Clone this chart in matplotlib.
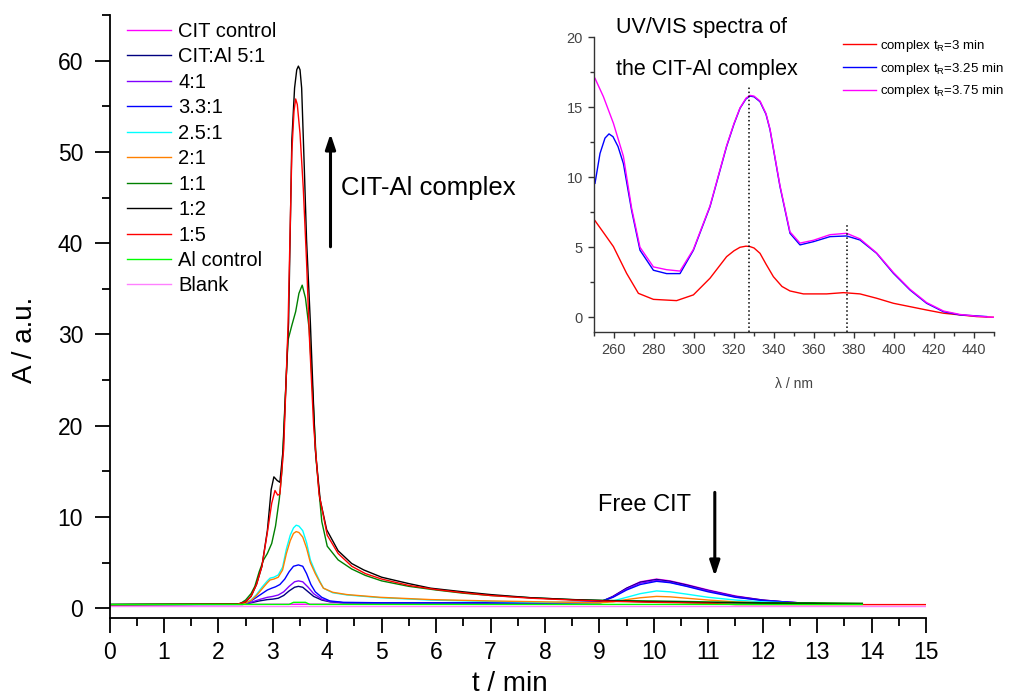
import numpy as np
import matplotlib
matplotlib.use('Agg')
import matplotlib.pyplot as plt
from matplotlib.ticker import MultipleLocator

plt.rcParams['font.family'] = ['Liberation Sans', 'DejaVu Sans']
plt.rcParams['mathtext.fontset'] = 'custom'
plt.rcParams['mathtext.rm'] = 'Liberation Sans'

# ---------------- chromatograms (t / min, A / a.u.) ----------------
labels = ['CIT control', 'CIT:Al 5:1', '4:1', '3.3:1', '2.5:1', '2:1',
          '1:1', '1:2', '1:5', 'Al control', 'Blank']
colors = ['#FF00FF', '#000080', '#8000FF', '#0000FF', '#00FFFF', '#FF8000',
          '#008000', '#000000', '#FF0000', '#00FF00', '#FF80FF']

t_cit = [0, 9.0, 9.25, 9.5, 9.75, 10.05, 10.3, 10.6, 11.0, 11.5, 12.0, 12.5, 13.0, 13.83]
a_cit = [0.4, 0.5, 1.3, 2.2, 2.9, 3.2, 3.0, 2.6, 2.0, 1.35, 0.9, 0.65, 0.5, 0.45]

t_51 = [0, 2.45, 2.6, 2.75, 2.9, 3.0, 3.1, 3.2, 3.3, 3.4, 3.47, 3.55, 3.65, 3.75, 3.9, 4.05, 4.3,
        5, 6, 7, 8, 9, 9.25, 9.5, 9.75, 10.05, 10.3, 10.6, 11.0, 11.5, 12.0, 12.5, 13.0, 13.83]
a_51 = [0.4, 0.42, 0.6, 0.8, 0.95, 1.0, 1.1, 1.4, 1.9, 2.3, 2.4, 2.3, 1.8, 1.3, 0.9, 0.7, 0.6,
        0.55, 0.55, 0.55, 0.55, 0.65, 1.3, 2.2, 2.85, 3.15, 2.95, 2.55, 1.95, 1.3, 0.9, 0.65, 0.5, 0.45]

t_41 = [0, 2.45, 2.6, 2.75, 2.9, 3.0, 3.1, 3.2, 3.3, 3.4, 3.47, 3.55, 3.65, 3.75, 3.9, 4.05, 4.3,
        5, 6, 7, 8, 9, 9.25, 9.5, 9.75, 10.05, 10.3, 10.6, 11.0, 11.5, 12.0, 12.5, 13.0, 13.83]
a_41 = [0.4, 0.42, 0.65, 0.95, 1.2, 1.3, 1.45, 1.8, 2.4, 2.9, 3.0, 2.9, 2.3, 1.6, 1.0, 0.75, 0.6,
        0.55, 0.55, 0.55, 0.55, 0.65, 1.25, 2.1, 2.75, 3.05, 2.85, 2.45, 1.9, 1.25, 0.85, 0.65, 0.5, 0.45]

t_331 = [0, 2.45, 2.6, 2.75, 2.9, 2.98, 3.05, 3.13, 3.22, 3.3, 3.38, 3.47, 3.55, 3.62, 3.7, 3.78, 3.9,
         4.05, 4.3, 5, 6, 7, 8, 9, 9.25, 9.5, 9.75, 10.05, 10.3, 10.6, 11.0, 11.5, 12.0, 12.5, 13.0, 13.83]
a_331 = [0.4, 0.45, 0.8, 1.4, 2.0, 2.2, 2.35, 2.6, 3.2, 4.0, 4.6, 4.75, 4.6, 3.8, 2.6, 1.8, 1.2,
         0.8, 0.65, 0.6, 0.6, 0.6, 0.6, 0.7, 1.2, 2.0, 2.6, 2.95, 2.8, 2.4, 1.8, 1.2, 0.85, 0.65, 0.5, 0.45]

t_251 = [0, 2.45, 2.6, 2.7, 2.8, 2.9, 2.95, 3.02, 3.1, 3.18, 3.25, 3.32, 3.38, 3.43, 3.48, 3.55, 3.62,
         3.69, 3.78, 3.86, 3.93, 4.1, 4.36, 4.97, 5.9, 7, 8, 9, 9.25, 9.5, 9.75, 10.05, 10.3, 10.6,
         11.0, 11.5, 12.0, 12.5, 13.0, 13.83]
a_251 = [0.4, 0.45, 0.9, 1.5, 2.3, 3.0, 3.3, 3.4, 3.65, 4.5, 6.5, 8.0, 8.8, 9.1, 9.0, 8.5, 7.2,
         5.3, 4.0, 3.0, 2.2, 1.7, 1.46, 1.16, 0.9, 0.75, 0.65, 0.6, 0.8, 1.2, 1.6, 1.9, 1.8, 1.55,
         1.2, 0.9, 0.7, 0.6, 0.5, 0.45]

t_21 = [0, 2.45, 2.6, 2.7, 2.8, 2.9, 2.95, 3.02, 3.1, 3.18, 3.25, 3.32, 3.38, 3.43, 3.48, 3.55, 3.62,
        3.69, 3.78, 3.86, 3.93, 4.1, 4.36, 4.97, 5.9, 7, 8, 9, 9.25, 9.5, 9.75, 10.05, 10.3, 10.6,
        11.0, 11.5, 12.0, 12.5, 13.0, 13.83]
a_21 = [0.4, 0.45, 0.85, 1.4, 2.1, 2.8, 3.1, 3.2, 3.4, 4.2, 6.0, 7.4, 8.2, 8.4, 8.3, 7.8, 6.6,
        5.0, 3.8, 2.9, 2.2, 1.75, 1.5, 1.2, 0.95, 0.8, 0.7, 0.6, 0.7, 0.95, 1.15, 1.3, 1.25, 1.1,
        0.9, 0.7, 0.6, 0.55, 0.5, 0.45]

t_11 = [0, 2.4, 2.5, 2.6, 2.67, 2.75, 2.83, 2.9, 2.98, 3.05, 3.12, 3.17, 3.22, 3.28, 3.35, 3.42, 3.48,
        3.54, 3.6, 3.67, 3.73, 3.8, 3.9, 4.0, 4.2, 4.45, 4.7, 5.0, 5.5, 6, 6.5, 7, 7.75, 8.5, 9.25,
        10, 11, 12, 13, 13.83]
a_11 = [0.4, 0.5, 0.9, 1.6, 2.4, 4.0, 5.3, 6.0, 7.1, 9.0, 12.0, 15.2, 22, 29.4, 31, 32.5, 34.5,
        35.4, 34, 30.5, 24, 16, 9.5, 6.8, 5.3, 4.3, 3.6, 3.0, 2.4, 2.0, 1.65, 1.4, 1.15, 0.95, 0.85,
        0.8, 0.7, 0.6, 0.6, 0.55]

t_12 = [0, 2.35, 2.5, 2.6, 2.7, 2.8, 2.9, 2.97, 3.02, 3.08, 3.13, 3.19, 3.29, 3.35, 3.4, 3.44, 3.47,
        3.5, 3.53, 3.58, 3.62, 3.69, 3.78, 3.87, 3.99, 4.2, 4.45, 4.67, 5.0, 5.5, 5.9, 6.5, 7.0, 7.73,
        8.5, 9.25, 10.0, 11.0, 12.0, 13.0, 13.83]
a_12 = [0.4, 0.45, 0.7, 1.3, 2.6, 4.6, 8.5, 13.0, 14.4, 14.0, 13.8, 17.4, 31.3, 51.3, 57.0, 59.0, 59.4,
        59.0, 57.0, 48, 40.4, 31.3, 17.4, 11.9, 8.6, 6.3, 4.9, 4.2, 3.4, 2.7, 2.2, 1.8, 1.5, 1.16,
        0.95, 0.8, 0.7, 0.6, 0.55, 0.5, 0.45]

t_15 = [0, 2.35, 2.5, 2.6, 2.7, 2.8, 2.9, 2.98, 3.04, 3.09, 3.13, 3.2, 3.28, 3.35, 3.39, 3.42, 3.45,
        3.5, 3.56, 3.62, 3.67, 3.75, 3.85, 4.0, 4.2, 4.45, 4.7, 5.0, 5.5, 6.0, 6.5, 7.0, 7.75, 8.5,
        9.25, 10.0, 11.0, 11.5, 15.0]
a_15 = [0.4, 0.45, 0.7, 1.3, 2.6, 4.6, 8.3, 11.5, 12.9, 12.4, 12.5, 17.5, 31, 50, 54.5, 55.8, 55.2,
        52, 46, 38, 30, 20, 12.5, 8.0, 6.0, 4.6, 3.8, 3.2, 2.5, 2.05, 1.7, 1.4, 1.1, 0.9,
        0.75, 0.65, 0.55, 0.4, 0.4]

t_al = [0, 3.3, 3.38, 3.6, 3.68, 13.83]
a_al = [0.42, 0.42, 0.65, 0.65, 0.42, 0.42]

t_blank = [0, 15]
a_blank = [0.25, 0.25]

series_t = [t_cit, t_51, t_41, t_331, t_251, t_21, t_11, t_12, t_15, t_al, t_blank]
series_a = [a_cit, a_51, a_41, a_331, a_251, a_21, a_11, a_12, a_15, a_al, a_blank]

# ---------------- UV/VIS spectra (lambda / nm, A / a.u.) ----------------
wl_3 = [250.5, 255, 259.7, 266.3, 272.2, 279.7, 291.3, 299.7, 308, 316.3, 320, 323, 326, 328, 330,
        333, 336, 339.7, 344, 348, 354.7, 366.3, 374.7, 383, 391.3, 399.7, 416.3, 424.7, 433,
        441.3, 449.7]
uv_3 = [6.9, 6.0, 5.05, 3.14, 1.71, 1.28, 1.19, 1.6, 2.79, 4.33, 4.75, 5.0, 5.08, 5.05, 4.95,
        4.57, 3.8, 2.9, 2.2, 1.88, 1.67, 1.67, 1.76, 1.67, 1.36, 1.0, 0.52, 0.29, 0.17,
        0.05, 0.0]

wl_325 = [250.5, 253, 255.5, 257.5, 259.5, 262, 264.7, 268.8, 273, 279.7, 286.3, 293, 299.7, 308,
          316.3, 320, 323, 326, 328, 330, 333, 336, 338, 343, 348, 353, 359.7, 368, 376.3, 383,
          391.3, 399.7, 408, 416.3, 424.7, 433, 441.3, 446.3]
uv_325 = [9.57, 11.7, 12.8, 13.1, 12.9, 12.2, 10.98, 7.64, 4.79, 3.36, 3.12, 3.12, 4.79, 7.9,
          12.2, 13.8, 14.93, 15.6, 15.8, 15.75, 15.4, 14.5, 13.4, 9.33, 6.0, 5.17, 5.4, 5.76,
          5.81, 5.52, 4.57, 3.14, 1.95, 1.0, 0.4, 0.17, 0.1, 0.05]

wl_375 = [250.5, 254.7, 259.7, 264.7, 268.8, 273, 279.7, 286.3, 293, 299.7, 308, 316.3, 320, 323,
          326, 328, 330, 333, 336, 338, 343, 348, 353, 359.7, 368, 376.3, 383, 391.3, 399.7, 408,
          416.3, 424.7, 433, 441.3, 449.7]
uv_375 = [17.07, 15.76, 13.86, 11.5, 7.8, 5.0, 3.6, 3.4, 3.3, 4.85, 7.95, 12.25, 13.85, 14.95,
          15.65, 15.85, 15.8, 15.45, 14.55, 13.45, 9.4, 6.1, 5.3, 5.5, 5.9, 6.0, 5.6, 4.6, 3.2,
          2.0, 1.05, 0.45, 0.2, 0.08, 0.0]

uv_labels = ['complex t$_\\mathregular{R}$=3 min', 'complex t$_\\mathregular{R}$=3.25 min',
             'complex t$_\\mathregular{R}$=3.75 min']
uv_colors = ['#FF0000', '#0000FF', '#FF00FF']
peak_wl = [327.5, 376.5]
peak_top = [16.5, 6.7]

W, H = 1011, 697
fig = plt.figure(figsize=(W / 100, H / 100), dpi=100)

# main chromatogram axes
ax = fig.add_axes([109.5 / W, 1 - 618.3 / H, 816.5 / W, 603.3 / H])
for tt, aa, lab, col in zip(series_t, series_a, labels, colors):
    ax.plot(tt, aa, color=col, lw=1.0, label=lab)

ax.set_xlim(0, 15)
ax.set_ylim(-1.1, 65)
ax.xaxis.set_major_locator(MultipleLocator(1))
ax.xaxis.set_minor_locator(MultipleLocator(0.5))
ax.yaxis.set_major_locator(MultipleLocator(10))
ax.yaxis.set_minor_locator(MultipleLocator(5))
for s in ['top', 'right']:
    ax.spines[s].set_visible(False)
for s in ['left', 'bottom']:
    ax.spines[s].set_linewidth(1.3)
ax.tick_params(which='major', direction='out', length=11, width=1.3, labelsize=16.5)
ax.tick_params(which='minor', direction='out', length=5.5, width=1.3)
ax.tick_params(axis='y', pad=8)
ax.tick_params(axis='x', pad=5)

fig.text(25 / W, 1 - 340 / H, 'A / a.u.', rotation=90, ha='center', va='center', fontsize=20)
fig.text(510 / W, 1 - 684 / H, 't / min', ha='center', va='center', fontsize=20)

leg = ax.legend(loc='upper left', bbox_to_anchor=(127 / W, 1 - 22 / H),
                bbox_transform=fig.transFigure, frameon=False, fontsize=14.5,
                handlelength=2.2, handletextpad=0.35, labelspacing=0.32,
                borderpad=0, borderaxespad=0)

# annotations
ax.annotate('', xy=(4.06, 52.3), xytext=(4.06, 39.3),
            arrowprops=dict(arrowstyle='-|>,head_width=0.3,head_length=0.9', color='black', lw=2.2))
ax.text(4.26, 46.1, 'CIT-Al complex', fontsize=18.5, ha='left', va='center')
ax.annotate('', xy=(11.12, 3.2), xytext=(11.12, 13.0),
            arrowprops=dict(arrowstyle='-|>,head_width=0.3,head_length=0.9', color='black', lw=2.2))
ax.text(8.98, 11.3, 'Free CIT', fontsize=17, ha='left', va='center')

# inset UV/VIS axes
ins = fig.add_axes([594 / W, 1 - 331.7 / H, 400 / W, 294.4 / H])
ins.plot(wl_3, uv_3, color=uv_colors[0], lw=1.0, label=uv_labels[0])
ins.plot(wl_325, uv_325, color=uv_colors[1], lw=1.0, label=uv_labels[1])
ins.plot(wl_375, uv_375, color=uv_colors[2], lw=1.0, label=uv_labels[2])
for x0, y1 in zip(peak_wl, peak_top):
    ins.plot([x0, x0], [-1.03, y1], color='black', ls=':', lw=1.1)
ins.set_xlim(250, 450)
ins.set_ylim(-1.03, 20)
ins.xaxis.set_minor_locator(MultipleLocator(10))
ins.set_xticks(np.arange(260, 441, 20))
ins.yaxis.set_major_locator(MultipleLocator(5))
ins.yaxis.set_minor_locator(MultipleLocator(2.5))
for s in ['top', 'right']:
    ins.spines[s].set_visible(False)
for s in ['left', 'bottom']:
    ins.spines[s].set_color('#333333')
    ins.spines[s].set_linewidth(1.0)
ins.tick_params(which='major', direction='out', length=4.5, width=1.0, colors='#333333',
                labelsize=10.5, labelcolor='#444444')
ins.tick_params(which='minor', direction='out', length=3, width=1.0, colors='#333333')
ins.set_facecolor('none')

fig.text(794 / W, 1 - 384 / H, '\u03bb / nm', ha='center', va='center', fontsize=10, color='#444444')
fig.text(616 / W, 1 - 28 / H, 'UV/VIS spectra of', ha='left', va='center', fontsize=15.5)
fig.text(616 / W, 1 - 69 / H, 'the CIT-Al complex', ha='left', va='center', fontsize=15.5)

ins.legend(loc='upper left', bbox_to_anchor=(843 / W, 1 - 38 / H), bbox_transform=fig.transFigure,
           frameon=False, fontsize=9.5, handlelength=2.5, handletextpad=0.3, labelspacing=0.5,
           borderpad=0, borderaxespad=0)

fig.savefig('out.png', dpi=100)
